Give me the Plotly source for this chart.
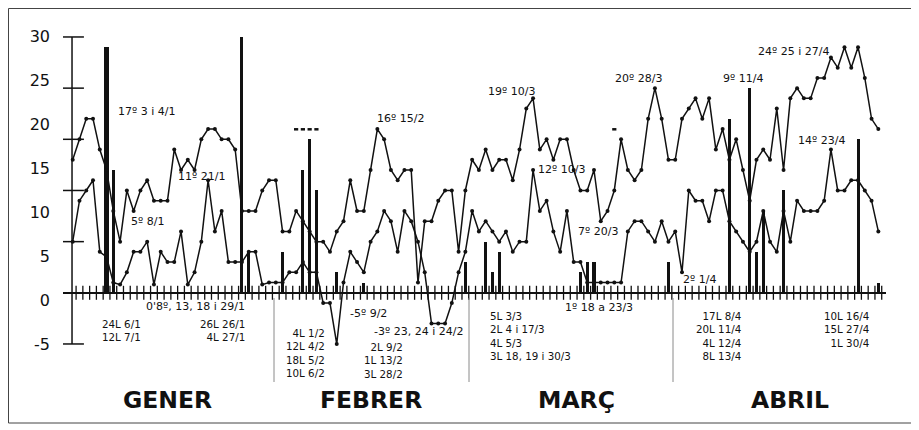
import plotly.graph_objects as go

# ---------------- data ----------------
days = list(range(1, 121))  # 1 = 1 Jan ... 120 = 30 Apr

t_max = [
    # Gener 1-31
    13, 15, 17, 17, 14, 12, 8, 5, 10, 8, 10, 11, 9, 9, 9, 14, 12, 13, 12, 15,
    16, 16, 15, 15, 14, 8, 8, 8, 10, 11, 11,
    # Febrer 1-28
    6, 6, 8, 7, 6, 5, 5, 4, 6, 7, 11, 8, 8, 12, 16, 15, 12, 11, 12, 12,
    1, 7, 7, 9, 10, 10, 4, 10,
    # Març 1-31
    13, 12, 14, 12, 13, 13, 11, 14, 18, 19, 14, 15, 13, 15, 15, 12, 10, 10, 12, 7,
    8, 10, 15, 12, 11, 12, 17, 20, 17, 13, 13,
    # Abril 1-30
    17, 18, 19, 17, 19, 14, 16, 13, 15, 12, 9, 13, 14, 13, 18, 12, 19, 20, 19, 19,
    21, 21, 23, 22, 24, 22, 24, 21, 17, 16,
]

t_min = [
    # Gener
    5, 9, 10, 11, 4, 3.5, 1, 0.8, 2, 4, 4, 5, 0.8, 4, 3, 3, 6, 0.8, 2, 5,
    11, 6, 8, 3, 3, 3, 4, 4, 0.8, 1, 1,
    # Febrer
    1, 2, 2, 3, 2, 2, -1, -1, -5, 1, 4, 3, 2, 5, 6, 8, 7, 4, 8, 7,
    5, 2, -3, -3, -3, -1, 2, 4,
    # Març
    8, 6, 7, 6, 5, 6, 4, 5, 5, 12, 8, 9, 6, 4, 8, 3, 3, 1, 1, 1,
    1, 1, 1, 6, 7, 7, 6, 5, 7, 5, 6,
    # Abril
    2, 10, 9, 9, 7, 10, 10, 7, 6, 5, 4, 5, 8, 5, 4, 8, 5, 9, 8, 8,
    8, 9, 14, 10, 10, 11, 11, 10, 9, 6,
]

rain_days = [6, 7, 26, 27, 32, 35, 36, 37, 40, 44, 59, 62, 63, 64, 76, 77, 78, 89,
             98, 101, 102, 103, 106, 117, 120]
rain_l = [24, 12, 25, 4, 4, 12, 15, 10, 2, 1, 3, 5, 2, 4, 2, 3, 3, 3,
          17, 20, 4, 8, 10, 15, 1]

snow_days = [34, 35, 36, 37, 81]

y_ticks = [-5, 0, 5, 10, 15, 20, 25]
y_labels = [-5, 0, 5, 10, 15, 20, 25, 30]

months = ["GENER", "FEBRER", "MARÇ", "ABRIL"]

extreme_notes = [
    "17º 3 i 4/1", "5º 8/1", "11º 21/1", "0'8º, 13, 18 i 29/1",
    "16º 15/2", "-5º 9/2", "-3º 23, 24 i 24/2",
    "19º 10/3", "12º 10/3", "7º 20/3", "20º 28/3", "1º 18 a 23/3",
    "2º 1/4", "9º 11/4", "24º 25 i 27/4", "14º 23/4",
]

rain_blocks = [
    ["24L 6/1", "12L 7/1"],
    ["26L 26/1", "4L 27/1"],
    ["4L 1/2", "12L 4/2", "18L 5/2", "10L 6/2"],
    ["2L 9/2", "1L 13/2", "3L 28/2"],
    ["5L 3/3", "2L 4 i 17/3", "4L 5/3", "3L 18, 19 i 30/3"],
    ["17L 8/4", "20L 11/4", "4L 12/4", "8L 13/4"],
    ["10L 16/4", "15L 27/4", "1L 30/4"],
]

# ---------------- geometry (layout only, page pixels) ----------------
OFF = 8                                     # default body margin of the html page
PAGE_W, PAGE_H = 919, 430
W, H = PAGE_W - OFF, PAGE_H - OFF
PL, PR, PT, PB = 63, 886, 20, 415          # plot area in page pixels
PX0, PXD = 72.7, 6.77                       # pixel of day 1, pixels per day
PY0, PYU = 292.8, 10.233                    # pixel of 0, pixels per unit
LY0, LYU = 300.0, 8.8                       # label axis: pixel of 0, pixels per unit


def xd(px):
    return (px - PX0) / PXD + 1


def yd(py):
    return (PY0 - py) / PYU


def fx(px):
    return (px - PL) / (PR - PL)


def fy(py):
    return (PB - py) / (PB - PT)


INK = "#111111"
FONT_SMALL = "DejaVu Sans"

fig = go.Figure()

bar_w = [0.45] * len(rain_days)
bar_w[0] = 0.65
fig.add_trace(go.Bar(x=rain_days, y=rain_l, width=bar_w,
                     marker=dict(color=INK, line=dict(width=0)),
                     showlegend=False, hoverinfo="skip"))

# x-axis day ticks (crossing the zero line)
fig.add_trace(go.Scatter(x=[d + 0.5 for d in days], y=[0] * len(days), mode="markers",
                         marker=dict(symbol="line-ns", size=10, color=INK,
                                     line=dict(color=INK, width=1.3)),
                         showlegend=False, hoverinfo="skip"))

# y-axis line with crossing ticks
fig.add_trace(go.Scatter(x=[days[0] - 0.1] * 2, y=[y_ticks[0], y_ticks[-1]], mode="lines",
                         line=dict(color=INK, width=1.5),
                         showlegend=False, hoverinfo="skip"))
fig.add_trace(go.Scatter(x=[days[0] - 0.1] * len(y_ticks), y=y_ticks, mode="markers",
                         marker=dict(symbol="line-ew", size=17, color=INK,
                                     line=dict(color=INK, width=1.5)),
                         showlegend=False, hoverinfo="skip"))

for series in (t_max, t_min):
    fig.add_trace(go.Scatter(x=days, y=series, mode="lines+markers",
                             line=dict(color=INK, width=1.5),
                             marker=dict(size=4, color=INK),
                             showlegend=False, hoverinfo="skip"))

fig.add_trace(go.Scatter(x=snow_days, y=[yd(129.3)] * len(snow_days), mode="markers",
                         marker=dict(symbol="line-ew", size=3, color=INK,
                                     line=dict(color=INK, width=2.5)),
                         showlegend=False, hoverinfo="skip"))

# dummy trace for label axis
fig.add_trace(go.Scatter(x=[None], y=[None], yaxis="y2", showlegend=False, hoverinfo="skip"))

# month dividers
for px in (274, 469, 673):
    fig.add_shape(type="line", xref="x", yref="y", x0=xd(px), x1=xd(px),
                  y0=yd(298), y1=yd(382), line=dict(color="#8a8a8a", width=1))

# frame
fig.add_shape(type="rect", xref="paper", yref="paper",
              x0=fx(8.5), x1=fx(912), y0=fy(423), y1=fy(8.5),
              line=dict(color="#444444", width=1))


def note(text, px, py, anchor="center", size=11, bold=False, family=FONT_SMALL):
    fig.add_annotation(x=xd(px), y=yd(py), xref="x", yref="y", text=text,
                       showarrow=False, xanchor=anchor, yanchor="middle",
                       align=anchor if anchor != "center" else "center",
                       font=dict(family=family, size=size, color=INK,
                                 weight="bold" if bold else "normal"))


extreme_pos = [
    (146.8, 111.7), (147, 221.5), (201.7, 176.7), (195, 306.5),
    (400, 118.5), (368, 313.5), (418, 331.5),
    (511, 91), (561.7, 169.5), (598, 231.5), (638.5, 78.5), (599, 307.5),
    (699, 279.5), (743, 78.5), (793.7, 51.3), (821.7, 140.5),
]
for t, (px, py) in zip(extreme_notes, extreme_pos):
    note(t, px, py)

rain_pos = [
    (100, 330.2, "left"), (246.7, 330.2, "right"),
    (326.7, 353.2, "right"), (405, 360.2, "right"),
    (488.3, 335.5, "left"), (743.3, 335.5, "right"), (870.7, 329.0, "right"),
]
for lines, (px, py, a) in zip(rain_blocks, rain_pos):
    note("<br>".join(lines), px, py, anchor=a, size=10.3)

for m, px in zip(months, (167.5, 371, 576.7, 790)):
    note(m, px, 399.5, size=23.5, bold=True, family="DejaVu Sans")

fig.update_layout(
    width=W, height=H,
    margin=dict(l=PL - OFF, r=PAGE_W - PR, t=PT - OFF, b=PAGE_H - PB),
    paper_bgcolor="white", plot_bgcolor="white",
    bargap=0,
    xaxis=dict(range=[xd(PL), xd(PR)], showgrid=False, zeroline=False,
               showticklabels=False, ticks="", showline=False),
    yaxis=dict(range=[yd(PB), yd(PT)], showgrid=False, showticklabels=False,
               ticks="", showline=False, zeroline=True,
               zerolinecolor=INK, zerolinewidth=1.5),
    yaxis2=dict(overlaying="y", side="left", anchor="x",
                range=[(LY0 - PB) / LYU, (LY0 - PT) / LYU],
                tickvals=y_labels, ticktext=[str(v) for v in y_labels],
                showgrid=False, zeroline=False, showline=False, ticks="",
                ticklabelstandoff=12,
                tickfont=dict(family="DejaVu Sans", size=16, color=INK)),
)

fig.write_html("out.html")
